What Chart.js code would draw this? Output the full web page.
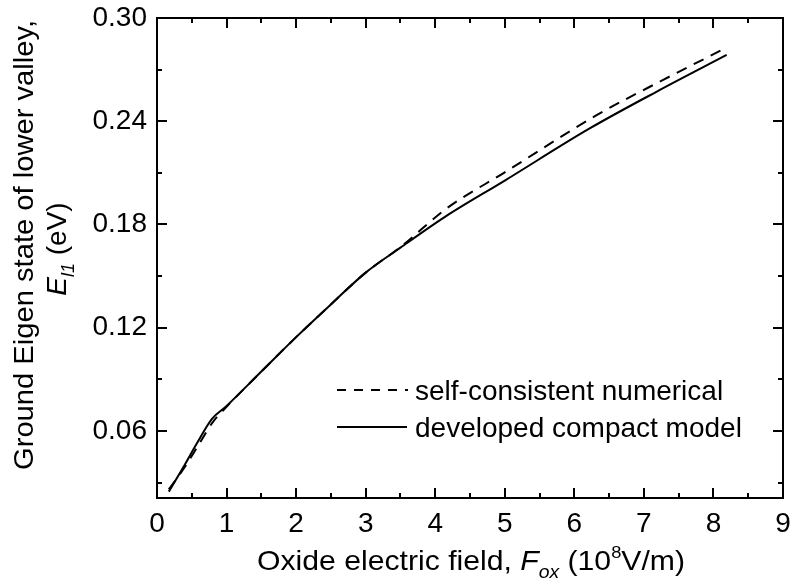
<!DOCTYPE html>
<html><head><meta charset="utf-8">
<script src="https://cdn.jsdelivr.net/npm/chart.js@4.4.1/dist/chart.umd.min.js"></script>
<style>html,body{margin:0;padding:0;background:#fff;}#wrap{position:relative;width:791px;height:586px;}</style>
</head><body><div id="wrap"><canvas id="c" width="791" height="586"></canvas></div>
<script>
// ---- data ----
const numericalX = [0.17, 0.4, 0.6, 0.8, 1.0, 1.5, 2.0, 2.5, 3.0, 3.5, 4.16, 5.0, 6.32, 7.27, 8.17];
const numericalY = [0.026, 0.039, 0.052, 0.065, 0.074, 0.0945, 0.1145, 0.1335, 0.152, 0.1668, 0.1892, 0.2103, 0.2435, 0.2639, 0.2824];
const modelX = [0.17, 0.38, 0.57, 0.79, 1.0, 1.5, 2.0, 2.5, 3.0, 3.5, 4.14, 5.0, 6.22, 7.18, 8.19];
const modelY = [0.0247, 0.039, 0.0525, 0.067, 0.0745, 0.0945, 0.1145, 0.1335, 0.152, 0.1665, 0.1844, 0.2055, 0.2358, 0.2571, 0.2785];
const seriesNames = ['self-consistent numerical', 'developed compact model'];
const xTickValues = [0, 1, 2, 3, 4, 5, 6, 7, 8, 9];
const xMinorTicks = [0.5, 1.5, 2.5, 3.5, 4.5, 5.5, 6.5, 7.5, 8.5];
const yTickValues = [0.06, 0.12, 0.18, 0.24, 0.30];
const yMinorTicks = [0.03, 0.09, 0.15, 0.21, 0.27];
const xRange = [0, 9];
const yRange = [0.021, 0.30];

const FONT = "'Liberation Sans', Arial, sans-serif";

function richText(ctx, parts, targetW) {
  let w = 0;
  parts.forEach(p => { ctx.font = p.font; p.w = ctx.measureText(p.t).width; w += p.w; });
  const s = targetW ? targetW / w : 1;
  ctx.save();
  ctx.scale(s, 1);
  let x = -w / 2;
  ctx.textBaseline = 'alphabetic';
  ctx.textAlign = 'left';
  parts.forEach(p => { ctx.font = p.font; ctx.fillText(p.t, x, p.dy || 0); x += p.w; });
  ctx.restore();
}

const decor = {
  id: 'decor',
  afterDraw(chart) {
    const ctx = chart.ctx, a = chart.chartArea;
    const xs = chart.scales.x, ys = chart.scales.y;
    ctx.save();
    ctx.strokeStyle = '#000';
    ctx.fillStyle = '#000';
    ctx.lineWidth = 2;
    ctx.setLineDash([]);
    ctx.strokeRect(a.left, a.top, a.right - a.left, a.bottom - a.top);
    ctx.beginPath();
    const tk = (vals, len) => {
      vals.forEach(v => {
        const px = Math.round(xs.getPixelForValue(v));
        ctx.moveTo(px, a.bottom); ctx.lineTo(px, a.bottom - len);
        ctx.moveTo(px, a.top); ctx.lineTo(px, a.top + len);
      });
    };
    const tky = (vals, len) => {
      vals.forEach(v => {
        const py = Math.round(ys.getPixelForValue(v));
        ctx.moveTo(a.left, py); ctx.lineTo(a.left + len, py);
        ctx.moveTo(a.right, py); ctx.lineTo(a.right - len, py);
      });
    };
    tk(xTickValues, 10); tk(xMinorTicks, 5);
    tky(yTickValues, 10); tky(yMinorTicks, 5);
    ctx.stroke();

    // legend
    ctx.lineWidth = 2;
    ctx.beginPath();
    ctx.setLineDash([9, 8]);
    ctx.moveTo(337, 390); ctx.lineTo(408, 390);
    ctx.stroke();
    ctx.setLineDash([]);
    ctx.beginPath();
    ctx.moveTo(337, 427); ctx.lineTo(407, 427);
    ctx.stroke();
    ctx.font = '28px ' + FONT;
    ctx.textAlign = 'left';
    ctx.textBaseline = 'alphabetic';
    ctx.fillText(seriesNames[0], 415, 400);
    ctx.fillText(seriesNames[1], 415, 437);

    // x axis title
    ctx.save();
    ctx.translate(471, 570);
    richText(ctx, [
      {t: 'Oxide electric field, ', font: '28px ' + FONT},
      {t: 'F', font: 'italic 28px ' + FONT},
      {t: 'ox', font: 'italic 18px ' + FONT, dy: 8},
      {t: ' (10', font: '28px ' + FONT},
      {t: '8', font: '17px ' + FONT, dy: -12},
      {t: 'V/m)', font: '28px ' + FONT}
    ], 428);
    ctx.restore();

    // y axis title
    ctx.save();
    ctx.translate(33, 245);
    ctx.rotate(-Math.PI / 2);
    richText(ctx, [{t: 'Ground Eigen state of lower valley,', font: '28px ' + FONT}], 450);
    ctx.restore();
    ctx.save();
    ctx.translate(66, 249);
    ctx.rotate(-Math.PI / 2);
    richText(ctx, [
      {t: 'E', font: 'italic 28px ' + FONT},
      {t: 'l1', font: 'italic 18px ' + FONT, dy: 8},
      {t: ' (eV)', font: '28px ' + FONT}
    ]);
    ctx.restore();
    ctx.restore();
  }
};

const toPts = (xs, ys) => xs.map((x, i) => ({x, y: ys[i]}));

new Chart(document.getElementById('c'), {
  type: 'line',
  data: {
    datasets: [
      {label: seriesNames[0], data: toPts(numericalX, numericalY), borderColor: '#000', borderWidth: 2,
       borderDash: [11, 8], pointRadius: 0, fill: false, cubicInterpolationMode: 'monotone'},
      {label: seriesNames[1], data: toPts(modelX, modelY), borderColor: '#000', borderWidth: 2,
       pointRadius: 0, fill: false, cubicInterpolationMode: 'monotone'}
    ]
  },
  options: {
    responsive: false,
    animation: false,
    devicePixelRatio: 1,
    layout: {padding: {top: 18, right: 8, left: 0, bottom: 0}},
    plugins: {legend: {display: false}, tooltip: {enabled: false}},
    scales: {
      x: {
        type: 'linear', min: xRange[0], max: xRange[1],
        grid: {display: false, drawTicks: false}, border: {display: false},
        afterBuildTicks: s => { s.ticks = xTickValues.map(v => ({value: v})); },
        afterFit: s => { s.height = 88; s.paddingLeft = 0; s.paddingRight = 0; },
        ticks: {font: {family: FONT, size: 28}, color: '#000', padding: 9, maxRotation: 0, autoSkip: false,
                callback: v => String(v)}
      },
      y: {
        type: 'linear', min: yRange[0], max: yRange[1],
        grid: {display: false, drawTicks: false}, border: {display: false},
        afterBuildTicks: s => { s.ticks = yTickValues.map(v => ({value: v})); },
        afterFit: s => { s.width = 157; s.paddingTop = 0; s.paddingBottom = 0; },
        ticks: {font: {family: FONT, size: 28}, color: '#000', padding: 10, autoSkip: false,
                callback: v => Number(v).toFixed(2)}
      }
    }
  },
  plugins: [decor]
});
</script></body></html>
